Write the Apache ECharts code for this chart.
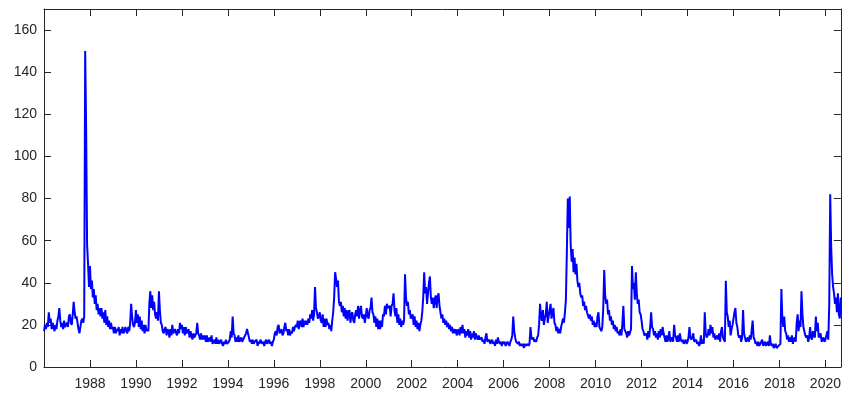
<!DOCTYPE html>
<html>
<head>
<meta charset="utf-8">
<script src="https://cdn.jsdelivr.net/npm/echarts@6/dist/echarts.min.js"></script>
<style>
html,body{margin:0;padding:0;background:#fff;}
#chart{width:844px;height:396px;}
</style>
</head>
<body>
<div id="chart"></div>
<script>
// Half-monthly readings (24 per year) starting Jan 1986
const startYear = 1986;
const stepsPerYear = 24;
const xTicks = [1988,1990,1992,1994,1996,1998,2000,2002,2004,2006,2008,2010,2012,2014,2016,2018,2020];
const yTicks = [0,20,40,60,80,100,120,140,160];
const v1986 = [17,20,18,21,19,26,21,23,18,21,19,17,20,18,22,24,28,22,19,21,18,22,19,20];
const v1987 = [21,19,24,25,21,20,25,31,26,23,24,21,18,16,19,22,23,21,24,150,113,58,49,38];
const v1988 = [48,37,41,33,37,30,34,27,30,25,28,24,28,23,26,21,27,20,24,19,22,18,21,18];
const v1989 = [19,16,19,16,18,17,19,15,18,16,19,16,17,19,17,16,19,17,21,30,24,20,19,21];
const v1990 = [27,21,25,19,24,18,22,17,20,16,20,17,18,17,30,36,28,34,27,31,25,23,26,22];
const v1991 = [36,27,21,20,17,16,18,19,15,18,17,14,18,15,20,16,17,18,16,15,18,16,21,18];
const v1992 = [20,16,19,15,19,16,17,18,14,17,15,13,16,14,15,16,21,16,15,13,16,13,15,13];
const v1993 = [15,12,15,12,13,14,12,15,11,12,13,11,14,11,13,11,12,13,11,10,12,11,13,11];
const v1994 = [11,12,13,17,14,24,16,15,12,14,12,15,12,12,14,12,13,14,15,16,18,16,14,12];
const v1995 = [13,11,13,11,12,12,13,10,12,11,13,12,11,12,10,12,13,11,12,13,11,12,10,12];
const v1996 = [13,16,17,15,19,20,16,17,18,15,16,19,21,17,18,15,18,15,17,16,19,17,19,20];
const v1997 = [19,22,18,21,22,19,23,19,22,20,22,20,23,21,25,23,27,22,25,38,28,26,23,24];
const v1998 = [26,22,21,25,19,23,19,23,20,21,18,20,17,22,26,33,45,42,38,41,31,29,31,26];
const v1999 = [29,24,28,23,27,22,26,27,21,25,26,22,21,25,27,24,29,23,27,29,24,23,25,21];
const v2000 = [24,28,24,23,27,28,33,26,25,21,24,19,23,18,22,18,22,19,25,24,29,25,30,28];
const v2001 = [28,29,24,29,30,35,27,24,28,21,25,20,23,19,22,20,22,44,33,29,31,25,27,23];
const v2002 = [24,25,20,24,19,22,18,21,17,20,22,26,33,45,35,38,30,35,40,43,33,30,33,28];
const v2003 = [32,34,28,33,35,29,26,23,25,21,23,20,22,19,21,18,20,17,19,16,18,16,18,15];
const v2004 = [17,18,15,19,16,20,16,18,14,17,15,18,14,17,13,16,14,17,13,16,14,13,15,13];
const v2005 = [13,14,12,13,11,14,16,12,12,13,11,12,13,11,12,10,13,11,14,12,11,12,10,12];
const v2006 = [11,12,10,10,12,11,10,12,13,15,24,17,14,12,12,11,12,10,11,10,11,9,11,10];
const v2007 = [10,11,10,11,19,14,13,14,12,13,12,14,15,20,30,24,22,27,20,23,25,31,21,24];
const v2008 = [27,30,23,26,28,21,20,17,19,16,18,16,19,21,23,21,26,32,55,80,66,81,58,50];
const v2009 = [56,45,52,44,49,41,38,40,35,33,34,29,31,27,29,26,26,23,25,22,24,20,22,19];
const v2010 = [21,19,24,26,19,18,17,19,28,46,34,30,32,25,27,22,24,20,22,18,20,17,19,16];
const v2011 = [17,15,18,15,21,29,18,17,16,14,17,15,15,18,48,37,40,32,45,35,30,32,26,25];
const v2012 = [22,18,17,15,15,16,13,17,14,19,26,19,18,15,17,14,16,13,17,14,18,15,19,16];
const v2013 = [14,12,15,12,14,17,12,12,14,12,20,15,14,12,15,12,16,13,12,13,11,11,13,11];
const v2014 = [12,14,19,14,13,14,16,12,12,13,11,12,10,11,15,11,13,11,26,16,14,15,18,15];
const v2015 = [20,16,19,14,16,13,13,15,13,16,12,17,19,14,14,12,41,26,24,19,22,15,18,20];
const v2016 = [23,26,28,21,19,15,14,15,12,14,27,16,14,12,12,14,12,15,13,13,22,14,13,11];
const v2017 = [12,10,12,10,11,12,13,10,10,12,10,10,12,10,15,11,10,11,9,9,11,9,9,10];
const v2018 = [10,11,37,23,19,24,17,16,13,15,12,14,12,15,11,13,14,12,21,25,17,22,19,36];
const v2019 = [25,19,17,15,14,15,12,14,19,14,13,17,15,14,24,17,21,14,14,16,12,12,14,12];
const v2020 = [13,15,17,13,30,82,57,44,38,35,30,33,26,35,25,23,33];

const yearly = [v1986,v1987,v1988,v1989,v1990,v1991,v1992,v1993,v1994,v1995,v1996,v1997,v1998,v1999,v2000,v2001,v2002,v2003,v2004,v2005,v2006,v2007,v2008,v2009,v2010,v2011,v2012,v2013,v2014,v2015,v2016,v2017,v2018,v2019,v2020];
const data = [];
yearly.forEach(function(arr, yi){
  arr.forEach(function(v, k){
    data.push([startYear + yi + k / stepsPerYear, v]);
  });
});

const axisColor = '#262626';
const labelFont = {color: axisColor, fontSize: 14, fontFamily: 'Liberation Sans, Arial, sans-serif'};
const xMin = 1986, xMax = 2020.67, yMin = 0, yMax = 170;

const chart = echarts.init(document.getElementById('chart'), null, {renderer: 'canvas'});
const baseX = {
  type: 'value', min: xMin, max: xMax, interval: 2,
  axisLine: {show: true, onZero: false, lineStyle: {color: axisColor, width: 1}},
  axisTick: {show: true, inside: true, length: 7, lineStyle: {color: axisColor}},
  splitLine: {show: false}
};
const baseY = {
  type: 'value', min: yMin, max: yMax, interval: 20,
  axisLine: {show: true, onZero: false, lineStyle: {color: axisColor, width: 1}},
  axisTick: {show: true, inside: true, length: 7, lineStyle: {color: axisColor}},
  splitLine: {show: false}
};
chart.setOption({
  animation: false,
  backgroundColor: '#ffffff',
  grid: {left: 44, right: 1, top: 9, bottom: 29, containLabel: false},
  xAxis: [
    Object.assign({}, baseX, {
      position: 'bottom',
      axisLabel: Object.assign({}, labelFont, {
        margin: 10,
        formatter: function(v){ return xTicks.indexOf(Math.round(v)) >= 0 && Math.abs(v - Math.round(v)) < 1e-6 ? String(Math.round(v)) : ''; }
      })
    }),
    Object.assign({}, baseX, {position: 'top', axisLabel: {show: false}})
  ],
  yAxis: [
    Object.assign({}, baseY, {
      position: 'left',
      axisLabel: Object.assign({}, labelFont, {
        margin: 7,
        formatter: function(v){ return (yTicks.indexOf(v) >= 0) ? String(v) : ''; }
      })
    }),
    Object.assign({}, baseY, {position: 'right', axisLabel: {show: false}})
  ],
  series: [{
    type: 'line',
    data: data,
    xAxisIndex: 0,
    yAxisIndex: 0,
    showSymbol: false,
    symbol: 'none',
    sampling: null,
    lineStyle: {color: '#0000ff', width: 2},
    clip: true
  }]
});
</script>
</body>
</html>
